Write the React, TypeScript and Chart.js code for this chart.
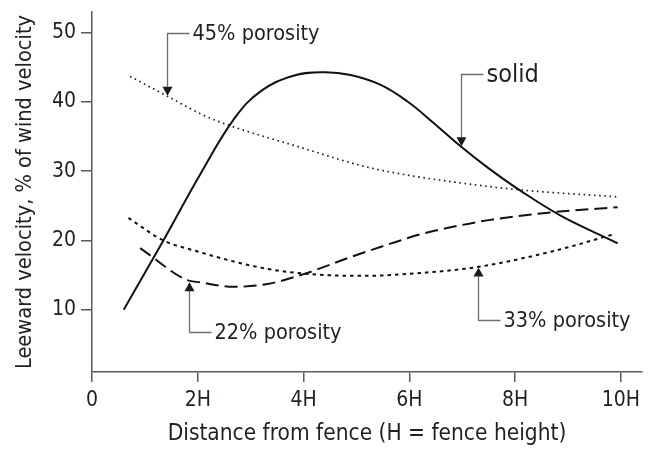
import React, { useEffect, useRef } from "react";
import { Chart, registerables } from "chart.js";

Chart.register(...registerables);

// ---------- data ----------
const solidX = [0.6, 1.35, 2.05, 2.7, 3.2, 3.81, 4.38, 4.89, 5.45, 5.96, 6.47, 6.97, 7.47, 8.1, 8.86, 9.94];
const solidY = [10, 20, 29.6, 37.7, 41.6, 43.8, 44.3, 43.9, 42.5, 40.1, 36.9, 33.6, 30.6, 27.2, 23.6, 19.6];

const p45X = [0.72, 1.41, 2.05, 2.42, 3.94, 5.2, 6.0, 6.78, 8.1, 9.94];
const p45Y = [43.7, 40.9, 38.3, 37.1, 33.45, 30.6, 29.4, 28.5, 27.3, 26.3];

const p33X = [0.69, 1.35, 2.05, 2.36, 3.31, 4.26, 5.2, 6.21, 7.32, 8.74, 9.87];
const p33Y = [23.25, 20, 18.3, 17.6, 15.9, 15.06, 14.9, 15.3, 16.2, 18.5, 20.9];

const p22X = [0.91, 1.79, 2.05, 2.68, 3.31, 3.97, 4.89, 5.83, 6.21, 6.78, 7.47, 8.74, 9.94];
const p22Y = [18.9, 14.3, 13.95, 13.3, 13.7, 15.06, 17.6, 20, 20.9, 21.9, 22.9, 24.1, 24.8];

const xTickValues = [0, 2, 4, 6, 8, 10];
const xTickLabels = ["0", "2H", "4H", "6H", "8H", "10H"];
const yTickValues = [10, 20, 30, 40, 50];

const calloutLabels = ["45% porosity", "solid", "22% porosity", "33% porosity"];
const calloutX = [1.41, 6.97, 1.84, 7.3];
const calloutTipY = [40.9, 33.6, 13.95, 16.1];
const calloutElbowY = [50, 44.06, 6.82, 8.55];

const xTitle = "Distance from fence (H = fence height)";
const yTitle = "Leeward velocity, % of wind velocity";

// ---------- style ----------
const FONT = '"DejaVu Sans Condensed", "Liberation Sans Narrow", Roboto, sans-serif';
const TEXT = "#231f20";
const AXIS = "#5a5a5a";
const LABEL_SIZE: Record<string, number> = { solid: 25 };
const DEFAULT_LABEL_SIZE = 21.5;

const toPts = (xs: number[], ys: number[]) => xs.map((x, i) => ({ x, y: ys[i] }));

const calloutPlugin = {
  id: "callouts",
  afterDatasetsDraw(chart: any) {
    const { ctx, scales } = chart;
    const xs = scales.x;
    const ys = scales.y;
    ctx.save();
    calloutLabels.forEach((label, i) => {
      const px = Math.round(xs.getPixelForValue(calloutX[i])) + 0.5;
      const tip = ys.getPixelForValue(calloutTipY[i]);
      const elbow = Math.round(ys.getPixelForValue(calloutElbowY[i])) + 0.5;
      const dir = tip > elbow ? 1 : -1;
      const ah = 9;
      const aw = 5;
      ctx.strokeStyle = "#6e6e6e";
      ctx.lineWidth = 1.3;
      ctx.setLineDash([]);
      ctx.beginPath();
      ctx.moveTo(px + 22, elbow);
      ctx.lineTo(px, elbow);
      ctx.lineTo(px, tip - dir * ah);
      ctx.stroke();
      ctx.fillStyle = "#1a1a1a";
      ctx.beginPath();
      ctx.moveTo(px, tip);
      ctx.lineTo(px - aw, tip - dir * ah);
      ctx.lineTo(px + aw, tip - dir * ah);
      ctx.closePath();
      ctx.fill();
      const size = LABEL_SIZE[label] ?? DEFAULT_LABEL_SIZE;
      ctx.font = `${size}px ${FONT}`;
      ctx.fillStyle = TEXT;
      ctx.textAlign = "left";
      ctx.textBaseline = "middle";
      ctx.fillText(label, px + 25, elbow + 1);
    });
    ctx.restore();
  },
};

export default function App() {
  const ref = useRef<HTMLCanvasElement>(null);
  useEffect(() => {
    if (!ref.current) return;
    const common = {
      borderColor: "#111",
      pointRadius: 0,
      fill: false,
      cubicInterpolationMode: "monotone" as const,
    };
    const chart = new Chart(ref.current, {
      type: "line",
      data: {
        datasets: [
          { ...common, label: "solid", data: toPts(solidX, solidY), borderWidth: 2, cubicInterpolationMode: "default" as const, tension: 0.4 },
          { ...common, label: "45% porosity", data: toPts(p45X, p45Y), borderWidth: 1.7, borderDash: [1.6, 3.6], borderColor: "#222" },
          { ...common, label: "33% porosity", data: toPts(p33X, p33Y), borderWidth: 2, borderDash: [3.5, 4] },
          { ...common, label: "22% porosity", data: toPts(p22X, p22Y), borderWidth: 2, borderDash: [13, 6] },
        ],
      },
      options: {
        animation: false,
        responsive: false,
        devicePixelRatio: 1,
        layout: { padding: { top: 12, right: 11, left: 0, bottom: 0 } },
        plugins: {
          legend: { display: false },
          tooltip: { enabled: false },
        },
        scales: {
          x: {
            type: "linear",
            min: 0,
            max: 10.4,
            afterFit: (s: any) => {
              s.height = 78;
              s.paddingLeft = 0;
              s.paddingRight = 0;
            },
            afterBuildTicks: (s: any) => {
              s.ticks = xTickValues.map((v) => ({ value: v }));
            },
            ticks: {
              color: TEXT,
              font: { family: FONT, size: 21 },
              padding: 6,
              maxRotation: 0,
              autoSkip: false,
              callback: (v: any) => {
                const i = xTickValues.indexOf(Number(v));
                return i >= 0 ? xTickLabels[i] : "";
              },
            },
            grid: { drawOnChartArea: false, drawTicks: true, tickLength: 10, color: AXIS, lineWidth: 1.5 },
            border: { display: true, color: AXIS, width: 1.5 },
            title: {
              display: true,
              text: xTitle,
              color: TEXT,
              font: { family: FONT, size: 22.5 },
              padding: { top: 0, bottom: 2 },
            },
          },
          y: {
            type: "linear",
            min: 1,
            max: 53,
            afterFit: (s: any) => {
              s.width = 92;
              s.paddingTop = 0;
              s.paddingBottom = 0;
            },
            afterBuildTicks: (s: any) => {
              s.ticks = yTickValues.map((v) => ({ value: v }));
            },
            ticks: {
              color: TEXT,
              font: { family: FONT, size: 21 },
              padding: 5,
              autoSkip: false,
            },
            grid: { drawOnChartArea: false, drawTicks: true, tickLength: 11, color: AXIS, lineWidth: 1.5 },
            border: { display: true, color: AXIS, width: 1.5 },
            title: {
              display: true,
              text: yTitle,
              color: TEXT,
              font: { family: FONT, size: 21.6 },
              padding: { top: 12, bottom: 0 },
            },
          },
        },
      },
      plugins: [calloutPlugin],
    });
    return () => chart.destroy();
  }, []);
  return (
    <div style={{ position: "fixed", left: 0, top: 0, width: 653, height: 450, background: "#fff" }}>
      <canvas ref={ref} width={653} height={450} style={{ display: "block" }} />
    </div>
  );
}
